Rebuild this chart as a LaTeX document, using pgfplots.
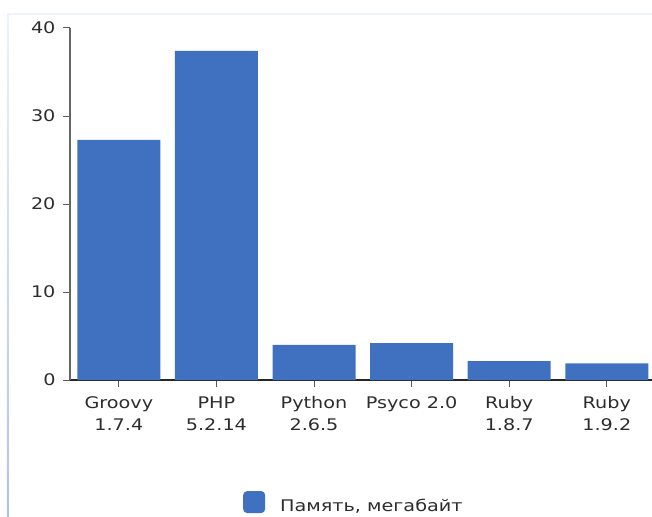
\documentclass[border=0pt]{standalone}
\usepackage{fontspec}
\setmainfont{DejaVu Sans}[FakeStretch=1.2]
\usepackage{pgfplots}
\pgfplotsset{compat=1.18}
\definecolor{barblue}{RGB}{64,112,192}
\definecolor{lab}{RGB}{45,45,45}
\definecolor{frameblue}{RGB}{176,196,224}
\definecolor{framelight}{RGB}{238,243,250}
\begin{document}
\begin{tikzpicture}
\begin{axis}[
  scale only axis, width=585.6pt, height=352pt,
  xmin=-0.5, xmax=5.5, ymin=0, ymax=40,
  axis lines=left, axis line style={-},
  x axis line style={draw=black!85, line width=1.6pt},
  y axis line style={draw=black!60, line width=1.5pt},
  xtick={0,1,2,3,4,5},
  xticklabels={{Groovy\\1.7.4},{PHP\\5.2.14},{Python\\2.6.5},{Psyco 2.0},{Ruby\\1.8.7},{Ruby\\1.9.2}},
  xticklabel style={align=center, font=\fontsize{16}{22}\selectfont, text=lab, yshift=-6pt, anchor=north},
  ytick={0,10,20,30,40},
  yticklabel style={font=\fontsize{16}{18}\selectfont, text=lab, xshift=-4pt},
  tick align=outside, major tick length=7pt,
  tick style={draw=black!65, line width=1pt},
  /pgf/number format/assume math mode=true,
  ybar, bar width=83pt,
  legend style={at={(0.2954,-0.315)}, anchor=north west, draw=none, fill=none,
    inner sep=0pt, font=\fontsize{16}{18}\selectfont, text=lab,
    /tikz/every odd column/.append style={column sep=13pt}},
  legend image code/.code={\fill[barblue, rounded corners=4pt] (0pt,-7pt) rectangle (22pt,15pt);},
]
\addplot[draw=none, fill=barblue] coordinates {(0,27.3) (1,37.4) (2,4.0) (3,4.2) (4,2.15) (5,1.9)};
\addlegendentry{Память, мегабайт}
\end{axis}
\shade[top color=framelight, bottom color=frameblue] (-63pt,-136pt) rectangle (-61pt,366pt);
\fill[framelight] (-63pt,365pt) rectangle (582pt,367pt);
\pgfresetboundingbox
\useasboundingbox (-70pt,-136pt) rectangle (582pt,380pt);
\end{tikzpicture}
\end{document}
